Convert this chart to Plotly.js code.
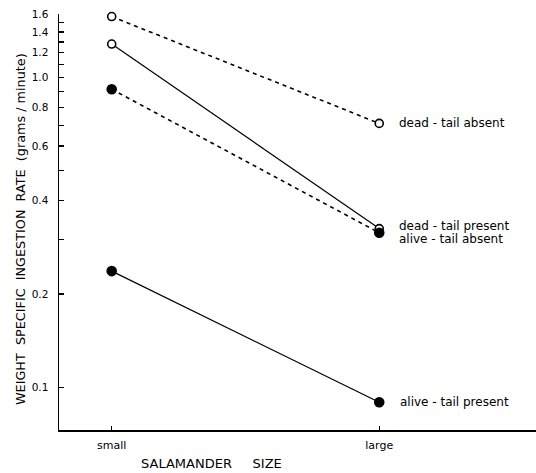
<!DOCTYPE html>
<html>
<head>
<meta charset="utf-8">
<script src="https://cdn.plot.ly/plotly-3.0.1.min.js"></script>
<style>html,body{margin:0;padding:0;background:#fff;}#chart{width:536px;height:473px;}</style>
</head>
<body>
<div id="chart"></div>
<script>
const sizes = ['small', 'large'];
const deadTailAbsent = [1.57, 0.71];
const deadTailPresent = [1.28, 0.325];
const aliveTailAbsent = [0.915, 0.315];
const aliveTailPresent = [0.237, 0.0895];
const yTickVals = [0.1, 0.2, 0.3, 0.4, 0.5, 0.6, 0.7, 0.8, 0.9, 1.0, 1.1, 1.2, 1.3, 1.4, 1.5, 1.6];
const yTickText = ['0.1', '0.2', '', '0.4', '', '0.6', '', '0.8', '', '1.0', '', '1.2', '', '1.4', '', '1.6'];

const FONT = 'DejaVu Sans, sans-serif';

function series(name, y, dash, filled) {
  return {
    type: 'scatter', mode: 'lines+markers', name: name,
    x: sizes, y: y,
    line: {color: '#000', width: dash === 'solid' ? 1.2 : 1.6, dash: dash},
    marker: {symbol: 'circle', size: filled ? 9 : 8, color: filled ? '#000' : '#fff',
             line: {color: '#000', width: 1.6}},
    cliponaxis: false
  };
}

const data = [
  series('dead - tail absent', deadTailAbsent, '4px,4px', false),
  series('dead - tail present', deadTailPresent, 'solid', false),
  series('alive - tail absent', aliveTailAbsent, '4px,4px', true),
  series('alive - tail present', aliveTailPresent, 'solid', true)
];

const labelFont = {family: FONT, size: 12, color: '#000'};
const annotations = [
  {xref: 'x', yref: 'y', x: 1, y: Math.log10(deadTailAbsent[1]), text: 'dead - tail absent',
   xanchor: 'left', xshift: 18, showarrow: false, font: labelFont},
  {xref: 'x', yref: 'y', x: 1, y: Math.log10(deadTailPresent[1]), text: 'dead - tail present',
   xanchor: 'left', xshift: 18, yshift: 3, showarrow: false, font: labelFont},
  {xref: 'x', yref: 'y', x: 1, y: Math.log10(aliveTailAbsent[1]), text: 'alive - tail absent',
   xanchor: 'left', xshift: 18, yshift: -6, showarrow: false, font: labelFont},
  {xref: 'x', yref: 'y', x: 1, y: Math.log10(aliveTailPresent[1]), text: 'alive - tail present',
   xanchor: 'left', xshift: 19, showarrow: false, font: labelFont},
  {xref: 'paper', yref: 'paper', x: 0, y: 0.483, xshift: -39, text: 'WEIGHT  SPECIFIC  INGESTION  RATE  (grams / minute)',
   textangle: -90, showarrow: false, xanchor: 'center', yanchor: 'middle',
   font: {family: FONT, size: 12.8, color: '#000'}},
  {xref: 'paper', yref: 'paper', x: 0.32, y: 0, yshift: -33, text: 'SALAMANDER&nbsp;&nbsp;&nbsp;&nbsp;&nbsp;SIZE',
   showarrow: false, xanchor: 'center', yanchor: 'middle',
   font: {family: FONT, size: 13, color: '#000'}}
];

const layout = {
  width: 536, height: 473,
  margin: {l: 59, r: 0, t: 14, b: 43},
  paper_bgcolor: '#fff', plot_bgcolor: '#fff',
  showlegend: false,
  font: {family: FONT, color: '#000'},
  xaxis: {
    type: 'category', range: [-0.197, 1.586],
    showgrid: false, zeroline: false,
    showline: true, linecolor: '#000', linewidth: 1.5,
    ticks: 'inside', ticklen: 4, tickwidth: 1, tickcolor: '#000',
    tickfont: {family: FONT, size: 11, color: '#000'},
    ticklabelstandoff: 4
  },
  yaxis: {
    type: 'log', range: [Math.log10(0.0728), Math.log10(1.6)],
    showgrid: false, zeroline: false,
    showline: true, linecolor: '#000', linewidth: 1.5,
    ticks: 'inside', ticklen: 5, tickwidth: 1.2, tickcolor: '#000',
    tickmode: 'array', tickvals: yTickVals, ticktext: yTickText,
    tickfont: {family: FONT, size: 10.5, color: '#000'},
    ticklabelstandoff: 7
  },
  annotations: annotations
};

Plotly.newPlot('chart', data, layout, {displayModeBar: false, staticPlot: true});
</script>
</body>
</html>
